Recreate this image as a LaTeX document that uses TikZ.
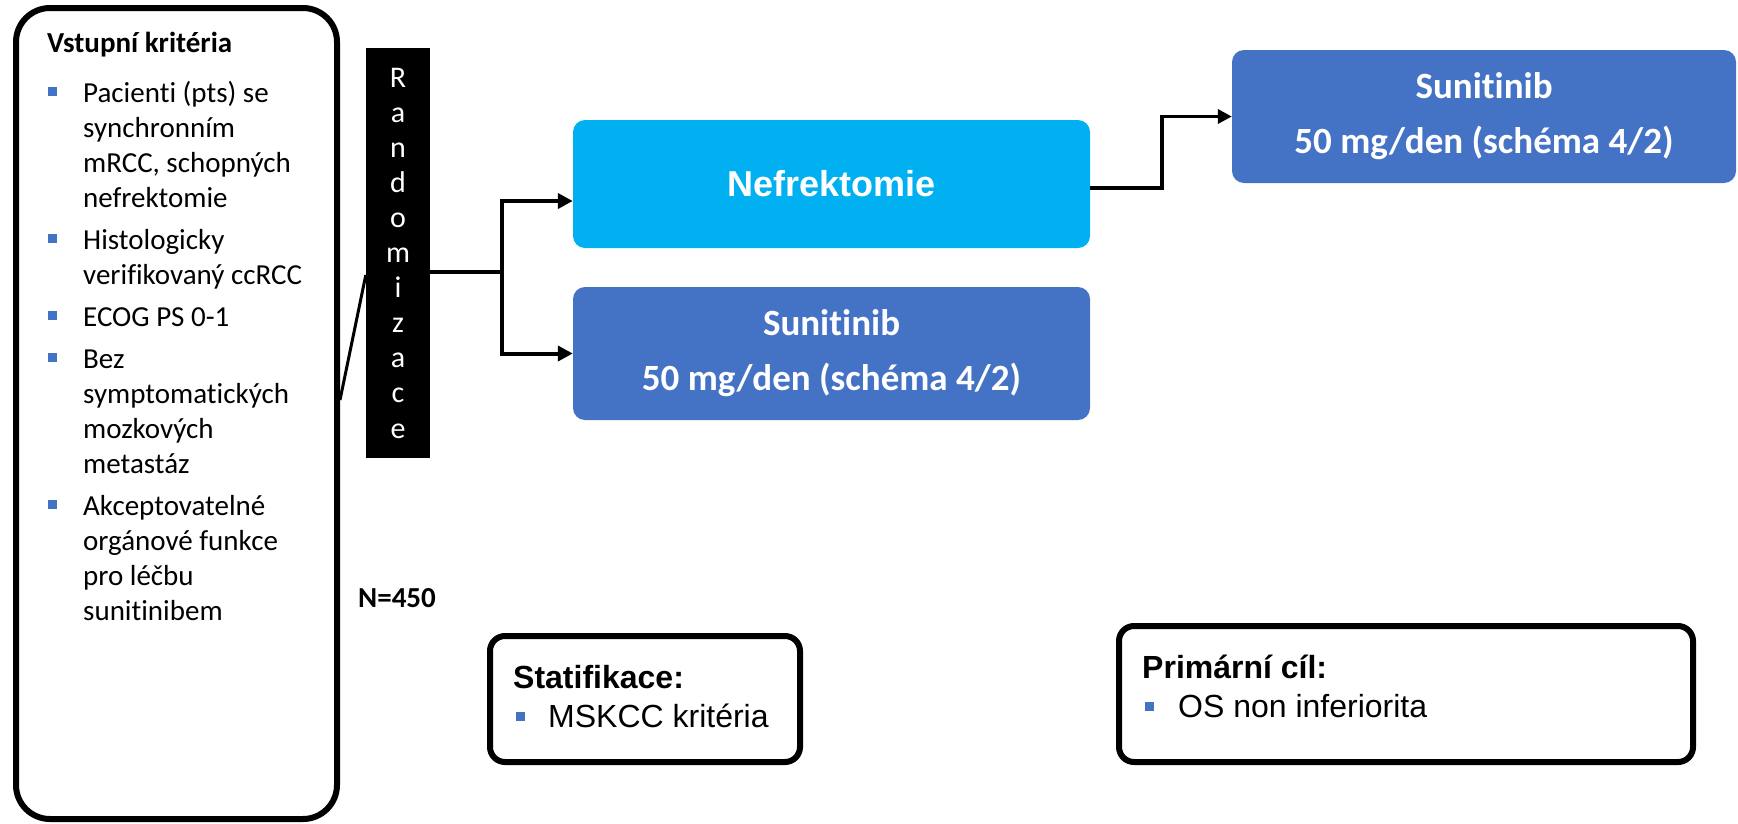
\documentclass[tikz,border=0pt]{standalone}
\usepackage{fontspec}
\setmainfont{Carlito}[Ligatures=CommonOff]
\newfontfamily\arialfont{Liberation Sans}
\usetikzlibrary{arrows.meta}
\definecolor{armcyan}{HTML}{00B0F0}
\definecolor{armblue}{HTML}{4472C4}
\begin{document}
\begin{tikzpicture}[x=1pt,y=-1pt,
  frame/.style={draw=black, line width=6pt, fill=white, inner sep=0pt},
  armbox/.style={fill=#1, rounded corners=12pt, inner sep=0pt, text=white, align=center},
  bulletsq/.style={fill=armblue, minimum size=9pt, inner sep=0pt},
  crit/.style={anchor=base west, inner sep=0pt, font=\fontsize{29}{35}\selectfont},
  infotext/.style={anchor=base west, inner sep=0pt, font=\arialfont\fontsize{32}{38}\selectfont},
  conn/.style={line width=4pt},
  tip/.style={-{Triangle[length=15pt,width=15pt]}}
]
\useasboundingbox (0,0) rectangle (1738,823);

% inclusion criteria panel
\node[frame, rounded corners=34pt, minimum width=321pt, minimum height=811pt] (critbox) at (176.5,413.5) {};
\node[crit, font=\bfseries\fontsize{29}{35}\selectfont] (crittitle) at (47,52) {Vstupní kritéria};
\foreach \yy/\txt [count=\i] in {102/{Pacienti (pts) se}, 137/synchronním, 172/{mRCC, schopných}, 207/nefrektomie,
    249/Histologicky, 284/{verifikovaný ccRCC}, 326/{ECOG PS 0-1}, 368/Bez, 403/symptomatických,
    438/mozkových, 473/metastáz, 515/Akceptovatelné, 550/{orgánové funkce}, 585/{pro léčbu}, 620/sunitinibem}
  \node[crit] (critline\i) at (83,\yy) {\txt};
\foreach \yy [count=\i] in {102,249,326,368,515}
  \node[bulletsq] (critbullet\i) at (52.5,\yy-11) {};

\node[crit, font=\bfseries\fontsize{29}{35}\selectfont] (count) at (358,607) {N=450};

% randomisation bar
\node[fill=black, text=white, inner sep=0pt, minimum width=64pt, minimum height=410pt,
      align=center, font=\fontsize{30}{35.1}\selectfont] (rand) at (398,253)
  {R\\a\\n\\d\\o\\m\\i\\z\\a\\c\\e};

% treatment arms
\node[armbox=armcyan, minimum width=517pt, minimum height=128pt,
      font=\arialfont\bfseries\fontsize{36}{40}\selectfont] (nef) at (831.5,184) {Nefrektomie};
\node[armbox=armblue, minimum width=517pt, minimum height=133pt,
      font=\bfseries\fontsize{37}{55}\selectfont] (sunlow) at (831.5,353.5) {Sunitinib\\50 mg/den (schéma 4/2)};
\node[armbox=armblue, minimum width=504pt, minimum height=133pt,
      font=\bfseries\fontsize{37}{55}\selectfont] (sunhigh) at (1484,116.5) {Sunitinib\\50 mg/den (schéma 4/2)};

% stratification and endpoint panels
\node[frame, rounded corners=15pt, minimum width=310pt, minimum height=126pt] (strat) at (645,699) {};
\node[infotext, font=\arialfont\bfseries\fontsize{32}{38}\selectfont] (strattitle) at (513,688) {Statifikace:};
\node[bulletsq] (stratbullet) at (520,716.5) {};
\node[infotext] (strattext) at (548,727) {MSKCC kritéria};

\node[frame, rounded corners=15pt, minimum width=574pt, minimum height=136pt] (prim) at (1406,694) {};
\node[infotext, font=\arialfont\bfseries\fontsize{32}{38}\selectfont] (primtitle) at (1142,678) {Primární cíl:};
\node[bulletsq] (primbullet) at (1149,706.5) {};
\node[infotext] (primtext) at (1178,717) {OS non inferiorita};

% connectors
\coordinate (critout) at (0,400);
\coordinate (randin) at (0,275);
\draw[line width=3pt] (critbox.east |- critout) -- (rand.west |- randin);

\coordinate (split) at (502,272);
\coordinate (nefrow) at (0,201);
\draw[conn] (rand.east |- split) -- (split);
\draw[conn, tip] (split) |- (nef.west |- nefrow);
\draw[conn, tip] (split) |- (sunlow.west);

\coordinate (nefout) at (0,188);
\coordinate (bend) at (1162,188);
\draw[line width=3.5pt, -{Triangle[length=14pt,width=14pt]}] (nef.east |- nefout) -- (bend) |- (sunhigh.west);
\end{tikzpicture}
\end{document}
